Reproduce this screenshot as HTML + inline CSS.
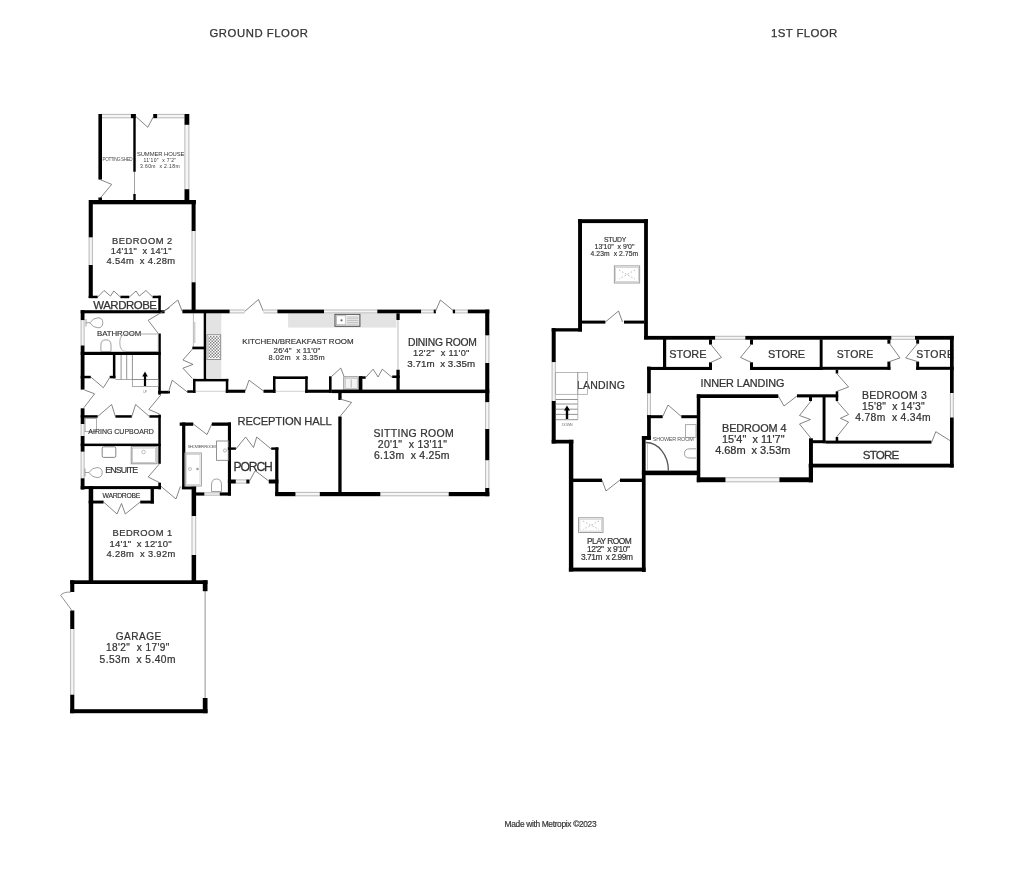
<!DOCTYPE html>
<html><head><meta charset="utf-8"><style>
html,body{margin:0;padding:0;background:#fff;}
svg{display:block;font-family:"Liberation Sans",sans-serif;will-change:transform;}
</style></head><body>
<svg width="1024" height="872" viewBox="0 0 1024 872">
<rect width="1024" height="872" fill="#fff"/>
<text x="209.5" y="36.9" font-size="11.31" textLength="98.5" lengthAdjust="spacing" fill="#333" stroke="#333" stroke-width="0.25">GROUND FLOOR</text>
<text x="771.0" y="37.0" font-size="11.45" textLength="66.3" lengthAdjust="spacing" fill="#333" stroke="#333" stroke-width="0.25">1ST FLOOR</text>
<text x="504.6" y="826.8" font-size="8.38" textLength="92.0" lengthAdjust="spacing" fill="#333" stroke="#333" stroke-width="0.18">Made with Metropix ©2023</text>
<rect x="98.4" y="114.0" width="3.6" height="65.6" fill="#000"/>
<rect x="102.0" y="114.0" width="28.9" height="4.2" fill="#f6f6f6"/>
<path d="M102.0 114.4H130.9M102.0 117.8H130.9" stroke="#aaa" stroke-width="0.8" fill="none"/>
<rect x="130.9" y="114.0" width="4.8" height="4.2" fill="#000"/>
<rect x="133.3" y="114.0" width="2.4" height="57.8" fill="#000"/>
<line x1="134.5" y1="171.8" x2="134.5" y2="194.0" stroke="#777" stroke-width="0.7"/>
<rect x="133.3" y="194.0" width="2.4" height="7.3" fill="#000"/>
<rect x="153.2" y="114.0" width="4.2" height="4.2" fill="#000"/>
<rect x="157.4" y="114.0" width="27.1" height="4.2" fill="#f6f6f6"/>
<path d="M157.4 114.4H184.5M157.4 117.8H184.5" stroke="#aaa" stroke-width="0.8" fill="none"/>
<rect x="184.5" y="114.0" width="4.8" height="10.9" fill="#000"/>
<rect x="184.5" y="124.9" width="4.8" height="64.3" fill="#f6f6f6"/>
<path d="M184.9 124.9V189.2M188.9 124.9V189.2" stroke="#aaa" stroke-width="0.8" fill="none"/>
<rect x="184.5" y="189.2" width="4.8" height="11.8" fill="#000"/>
<polyline points="135.7,116.4 147.8,127.3 153.2,117.0" fill="none" stroke="#666" stroke-width="0.8" stroke-linejoin="round"/>
<polyline points="100.2,179.6 111.7,184.4 99.6,198.9" fill="none" stroke="#666" stroke-width="0.8" stroke-linejoin="round"/>
<rect x="98.4" y="197.5" width="3.6" height="3.5" fill="#000"/>
<text x="136.9" y="156.1" font-size="5.87" textLength="47.6" lengthAdjust="spacing" fill="#333" stroke="#333" stroke-width="0.00">SUMMER HOUSE</text>
<text x="143.5" y="161.6" font-size="5.03" textLength="32.5" lengthAdjust="spacing" fill="#333" stroke="#333" stroke-width="0.00">11'10&quot;  x 7'2&quot;</text>
<text x="140.0" y="167.6" font-size="5.03" textLength="39.6" lengthAdjust="spacing" fill="#333" stroke="#333" stroke-width="0.00">3.60m  x 2.18m</text>
<text x="102.6" y="161.3" font-size="4.61" textLength="30.1" lengthAdjust="spacing" fill="#555" stroke="#555" stroke-width="0.00">POTTING SHED</text>
<rect x="89.0" y="200.0" width="106.9" height="4.3" fill="#000"/>
<rect x="88.7" y="200.0" width="4.1" height="37.6" fill="#000"/>
<rect x="88.7" y="237.6" width="4.1" height="27.4" fill="#f6f6f6"/>
<path d="M89.1 237.6V265.0M92.4 237.6V265.0" stroke="#aaa" stroke-width="0.8" fill="none"/>
<rect x="88.7" y="265.0" width="4.1" height="33.0" fill="#000"/>
<rect x="191.6" y="200.0" width="4.0" height="31.0" fill="#000"/>
<rect x="191.6" y="231.0" width="4.0" height="51.3" fill="#f6f6f6"/>
<path d="M192.0 231.0V282.3M195.2 231.0V282.3" stroke="#aaa" stroke-width="0.8" fill="none"/>
<rect x="191.6" y="282.3" width="4.0" height="30.7" fill="#000"/>
<text x="112.1" y="244.1" font-size="9.36" textLength="60.2" lengthAdjust="spacing" fill="#333" stroke="#333" stroke-width="0.21">BEDROOM 2</text>
<text x="110.8" y="253.8" font-size="9.22" textLength="60.7" lengthAdjust="spacing" fill="#333" stroke="#333" stroke-width="0.20">14'11&quot;  x 14'1&quot;</text>
<text x="106.5" y="264.0" font-size="9.36" textLength="68.5" lengthAdjust="spacing" fill="#333" stroke="#333" stroke-width="0.21">4.54m  x 4.28m</text>
<rect x="88.7" y="295.7" width="9.0" height="2.5" fill="#000"/>
<rect x="120.4" y="295.7" width="8.9" height="2.5" fill="#000"/>
<rect x="152.6" y="295.7" width="8.2" height="2.5" fill="#000"/>
<polyline points="97.7,297.0 104.0,290.5 110.5,296.0 113.8,291.0 120.4,297.0" fill="none" stroke="#666" stroke-width="0.8" stroke-linejoin="round"/>
<polyline points="129.3,297.0 136.0,291.0 139.4,296.0 146.0,290.5 152.6,297.0" fill="none" stroke="#666" stroke-width="0.8" stroke-linejoin="round"/>
<rect x="158.3" y="295.7" width="2.5" height="17.3" fill="#000"/>
<text x="93.3" y="308.9" font-size="11.45" textLength="63.7" lengthAdjust="spacing" fill="#333" stroke="#333" stroke-width="0.25">WARDROBE</text>
<rect x="80.7" y="310.2" width="83.9" height="3.1" fill="#000"/>
<rect x="80.7" y="310.2" width="3.8" height="10.1" fill="#000"/>
<rect x="80.7" y="320.3" width="3.8" height="25.2" fill="#f6f6f6"/>
<path d="M81.1 320.3V345.5M84.1 320.3V345.5" stroke="#aaa" stroke-width="0.8" fill="none"/>
<rect x="80.7" y="345.5" width="3.8" height="44.1" fill="#000"/>
<rect x="80.7" y="351.8" width="80.1" height="3.2" fill="#000"/>
<rect x="158.3" y="333.5" width="2.5" height="61.2" fill="#000"/>
<rect x="158.3" y="391.0" width="11.7" height="2.4" fill="#000"/>
<polyline points="158.3,333.5 148.2,320.3 169.6,307.6" fill="none" stroke="#666" stroke-width="0.8" stroke-linejoin="round"/>
<polyline points="164.6,310.8 177.8,300.0 182.2,311.4" fill="none" stroke="#666" stroke-width="0.8" stroke-linejoin="round"/>
<text x="97.1" y="336.0" font-size="7.82" textLength="44.1" lengthAdjust="spacing" fill="#333" stroke="#333" stroke-width="0.17">BATHROOM</text>
<path d="M158.3 334H126Q119.8 334 119.8 342.5Q119.8 351.5 126 351.5H158.3Z" fill="none" stroke="#999" stroke-width="0.8"/>
<path d="M86 319V326.5M86 322.8H90Q93 317.8 98 317.8Q102.8 317.8 102.8 322.8Q102.8 327.8 98 327.8Q93 327.8 90 322.8" fill="none" stroke="#888" stroke-width="0.8"/>
<path d="M100.9 351.5V345Q100.9 339.8 106 339.8Q111 339.8 111 345V351.5Z" fill="none" stroke="#888" stroke-width="0.8"/>
<rect x="80.7" y="375.8" width="10.1" height="2.5" fill="#000"/>
<rect x="112.9" y="355.0" width="2.5" height="23.3" fill="#000"/>
<rect x="109.7" y="375.8" width="5.7" height="2.5" fill="#000"/>
<polyline points="90.8,377.0 103.4,387.7 109.7,377.6" fill="none" stroke="#666" stroke-width="0.8" stroke-linejoin="round"/>
<polyline points="84.5,390.0 94.6,393.8 83.9,407.7" fill="none" stroke="#666" stroke-width="0.8" stroke-linejoin="round"/>
<rect x="80.7" y="408.3" width="3.8" height="15.7" fill="#000"/>
<rect x="80.7" y="424.0" width="3.8" height="12.0" fill="#f6f6f6"/>
<path d="M81.1 424.0V436.0M84.1 424.0V436.0" stroke="#aaa" stroke-width="0.8" fill="none"/>
<rect x="80.7" y="436.0" width="3.8" height="15.8" fill="#000"/>
<rect x="80.7" y="451.8" width="3.8" height="26.5" fill="#f6f6f6"/>
<path d="M81.1 451.8V478.3M84.1 451.8V478.3" stroke="#aaa" stroke-width="0.8" fill="none"/>
<rect x="80.7" y="478.3" width="3.8" height="11.3" fill="#000"/>
<line x1="121.1" y1="355.0" x2="121.1" y2="379.5" stroke="#777" stroke-width="0.8"/>
<line x1="126.7" y1="355.0" x2="126.7" y2="379.5" stroke="#777" stroke-width="0.8"/>
<line x1="132.4" y1="355.0" x2="132.4" y2="379.5" stroke="#777" stroke-width="0.8"/>
<line x1="115.4" y1="379.5" x2="158.3" y2="379.5" stroke="#888" stroke-width="0.7"/>
<rect x="132.4" y="379.5" width="25.9" height="7.0" fill="none" stroke="#888" stroke-width="0.7"/>
<path d="M145 386V375.5" stroke="#000" stroke-width="2.2"/><path d="M142.2 376.5L145 371.5L147.8 376.5Z" fill="#000"/>
<text x="143.3" y="392.6" font-size="3.35" textLength="3.7" lengthAdjust="spacing" fill="#888" stroke="#888" stroke-width="0.00">UP</text>
<polyline points="160.8,395.0 148.8,409.5 159.5,414.0" fill="none" stroke="#666" stroke-width="0.8" stroke-linejoin="round"/>
<rect x="158.3" y="414.6" width="2.5" height="49.2" fill="#000"/>
<polyline points="159.5,463.8 148.2,477.0 159.5,482.7" fill="none" stroke="#666" stroke-width="0.8" stroke-linejoin="round"/>
<rect x="158.3" y="482.7" width="2.7" height="6.6" fill="#000"/>
<rect x="80.7" y="415.2" width="17.0" height="2.5" fill="#000"/>
<rect x="115.4" y="415.2" width="16.4" height="2.5" fill="#000"/>
<rect x="149.4" y="415.2" width="11.4" height="2.5" fill="#000"/>
<polyline points="97.7,416.5 111.6,404.5 115.4,416.5" fill="none" stroke="#666" stroke-width="0.8" stroke-linejoin="round"/>
<polyline points="131.8,416.5 135.6,404.5 149.4,416.5" fill="none" stroke="#666" stroke-width="0.8" stroke-linejoin="round"/>
<rect x="85.1" y="418.4" width="11.4" height="13.2" fill="none" stroke="#999" stroke-width="0.8"/>
<text x="88.3" y="433.5" font-size="6.98" textLength="65.6" lengthAdjust="spacing" fill="#333" stroke="#333" stroke-width="0.15">AIRING CUPBOARD</text>
<rect x="80.7" y="443.6" width="80.1" height="2.5" fill="#000"/>
<rect x="102.2" y="446.8" width="13.6" height="10.6" rx="1.5" fill="none" stroke="#777" stroke-width="0.9"/>
<rect x="131.2" y="446.6" width="25.8" height="17.2" fill="none" stroke="#888" stroke-width="0.9"/>
<rect x="132.6" y="448.0" width="23.0" height="14.4" fill="none" stroke="#aaa" stroke-width="0.6"/>
<circle cx="143.5" cy="452" r="1.8" fill="none" stroke="#999" stroke-width="0.6"/>
<text x="105.3" y="472.6" font-size="8.80" textLength="32.8" lengthAdjust="spacing" fill="#333" stroke="#333" stroke-width="0.19">ENSUITE</text>
<path d="M85 468.5V476.5M85 472.5H89Q92 467.6 97 467.6Q102.2 467.6 102.2 472.5Q102.2 477.6 97 477.6Q92 477.6 89 472.5" fill="none" stroke="#888" stroke-width="0.8"/>
<rect x="80.7" y="486.1" width="80.3" height="3.0" fill="#000"/>
<rect x="150.6" y="487.0" width="3.3" height="16.5" fill="#000"/>
<rect x="88.7" y="500.6" width="14.9" height="2.9" fill="#000"/>
<rect x="140.2" y="500.6" width="13.7" height="2.9" fill="#000"/>
<polyline points="103.6,502.0 117.0,514.0 121.5,503.5 125.3,514.0 140.2,502.0" fill="none" stroke="#666" stroke-width="0.8" stroke-linejoin="round"/>
<text x="102.6" y="498.0" font-size="6.84" textLength="37.6" lengthAdjust="spacing" fill="#333" stroke="#333" stroke-width="0.15">WARDROBE</text>
<rect x="88.7" y="486.1" width="4.5" height="97.9" fill="#000"/>
<rect x="181.9" y="486.4" width="14.2" height="3.0" fill="#000"/>
<rect x="191.6" y="486.4" width="4.5" height="29.8" fill="#000"/>
<rect x="191.6" y="516.2" width="4.5" height="38.8" fill="#f6f6f6"/>
<path d="M192.0 516.2V555.0M195.7 516.2V555.0" stroke="#aaa" stroke-width="0.8" fill="none"/>
<rect x="191.6" y="555.0" width="4.5" height="29.0" fill="#000"/>
<polyline points="161.0,486.4 176.0,499.0 180.4,486.4" fill="none" stroke="#666" stroke-width="0.8" stroke-linejoin="round"/>
<text x="112.6" y="536.3" font-size="9.36" textLength="59.6" lengthAdjust="spacing" fill="#333" stroke="#333" stroke-width="0.21">BEDROOM 1</text>
<text x="109.6" y="546.8" font-size="9.50" textLength="61.9" lengthAdjust="spacing" fill="#333" stroke="#333" stroke-width="0.21">14'1&quot;  x 12'10&quot;</text>
<text x="106.6" y="557.2" font-size="9.36" textLength="68.6" lengthAdjust="spacing" fill="#333" stroke="#333" stroke-width="0.21">4.28m  x 3.92m</text>
<rect x="70.2" y="580.3" width="137.3" height="3.7" fill="#000"/>
<rect x="70.2" y="580.3" width="4.1" height="11.7" fill="#000"/>
<rect x="70.2" y="610.5" width="4.1" height="18.5" fill="#000"/>
<rect x="70.2" y="629.0" width="4.1" height="65.7" fill="#f6f6f6"/>
<path d="M70.6 629.0V694.7M73.9 629.0V694.7" stroke="#aaa" stroke-width="0.8" fill="none"/>
<rect x="70.2" y="694.7" width="4.1" height="18.5" fill="#000"/>
<path d="M71 592Q63 592 60.6 595.2L71.9 610.5" fill="none" stroke="#777" stroke-width="0.8"/>
<rect x="70.2" y="709.2" width="137.3" height="4.0" fill="#000"/>
<line x1="205.1" y1="584.0" x2="205.1" y2="709.0" stroke="#888" stroke-width="0.9"/>
<rect x="202.8" y="580.3" width="4.7" height="10.9" fill="#000"/>
<rect x="202.8" y="698.0" width="4.7" height="15.2" fill="#000"/>
<text x="115.7" y="640.2" font-size="10.06" textLength="45.5" lengthAdjust="spacing" fill="#333" stroke="#333" stroke-width="0.22">GARAGE</text>
<text x="106.0" y="651.4" font-size="10.06" textLength="63.3" lengthAdjust="spacing" fill="#333" stroke="#333" stroke-width="0.22">18'2&quot;  x 17'9&quot;</text>
<text x="99.6" y="662.7" font-size="10.20" textLength="75.8" lengthAdjust="spacing" fill="#333" stroke="#333" stroke-width="0.22">5.53m  x 5.40m</text>
<line x1="193.4" y1="313.3" x2="193.4" y2="346.6" stroke="#aaa" stroke-width="0.8"/>
<line x1="194.8" y1="322.0" x2="194.8" y2="343.0" stroke="#aaa" stroke-width="0.8"/>
<rect x="192.3" y="346.6" width="11.7" height="2.7" fill="#000"/>
<polyline points="192.3,349.3 182.9,360.0 193.0,364.4 182.9,368.2 192.3,378.3" fill="none" stroke="#666" stroke-width="0.8" stroke-linejoin="round"/>
<rect x="203.7" y="311.0" width="2.6" height="68.0" fill="#000"/>
<rect x="206.3" y="313.3" width="15.0" height="65.0" fill="#e3e3e3"/>
<defs><pattern id="chk" width="3" height="3" patternUnits="userSpaceOnUse"><rect width="1.5" height="1.5" fill="#333"/><rect x="1.5" y="1.5" width="1.5" height="1.5" fill="#333"/></pattern></defs>
<rect x="207.0" y="334.8" width="13.7" height="24.6" fill="#fff" stroke="#777" stroke-width="0.8"/>
<rect x="208" y="336" width="11.7" height="22.2" fill="url(#chk)" opacity="0.6"/>
<rect x="288.1" y="313.3" width="108.3" height="14.3" fill="#e3e3e3"/>
<rect x="335.0" y="314.3" width="24.9" height="12.0" fill="#f4f4f4" stroke="#555" stroke-width="1.1"/>
<rect x="336.6" y="315.8" width="9.2" height="9.0" fill="#fff" stroke="#999" stroke-width="0.6"/>
<circle cx="341.5" cy="320.3" r="1.1" fill="#666"/>
<line x1="347.0" y1="317.0" x2="358.6" y2="317.0" stroke="#999" stroke-width="0.6"/>
<line x1="347.0" y1="318.8" x2="358.6" y2="318.8" stroke="#999" stroke-width="0.6"/>
<line x1="347.0" y1="320.6" x2="358.6" y2="320.6" stroke="#999" stroke-width="0.6"/>
<line x1="347.0" y1="322.4" x2="358.6" y2="322.4" stroke="#999" stroke-width="0.6"/>
<line x1="347.0" y1="324.2" x2="358.6" y2="324.2" stroke="#999" stroke-width="0.6"/>
<rect x="182.4" y="309.6" width="47.4" height="3.7" fill="#000"/>
<rect x="229.8" y="309.6" width="14.8" height="3.7" fill="#f6f6f6"/>
<path d="M229.8 310.0H244.6M229.8 312.9H244.6" stroke="#aaa" stroke-width="0.8" fill="none"/>
<polyline points="244.6,311.5 258.5,299.5 263.5,311.5" fill="none" stroke="#666" stroke-width="0.8" stroke-linejoin="round"/>
<rect x="263.5" y="309.6" width="13.9" height="3.7" fill="#f6f6f6"/>
<path d="M263.5 310.0H277.4M263.5 312.9H277.4" stroke="#aaa" stroke-width="0.8" fill="none"/>
<rect x="277.4" y="309.6" width="46.7" height="3.7" fill="#000"/>
<rect x="324.1" y="309.6" width="53.2" height="3.7" fill="#f6f6f6"/>
<path d="M324.1 310.0H377.3M324.1 312.9H377.3" stroke="#aaa" stroke-width="0.8" fill="none"/>
<rect x="377.3" y="309.6" width="44.0" height="3.7" fill="#000"/>
<rect x="421.3" y="309.6" width="12.4" height="3.7" fill="#f6f6f6"/>
<path d="M421.3 310.0H433.7M421.3 312.9H433.7" stroke="#aaa" stroke-width="0.8" fill="none"/>
<rect x="433.7" y="309.6" width="2.2" height="3.7" fill="#000"/>
<polyline points="435.4,311.6 440.4,300.0 454.5,311.6" fill="none" stroke="#666" stroke-width="0.8" stroke-linejoin="round"/>
<rect x="452.8" y="309.6" width="2.5" height="3.7" fill="#000"/>
<rect x="455.3" y="309.6" width="12.5" height="3.7" fill="#f6f6f6"/>
<path d="M455.3 310.0H467.8M455.3 312.9H467.8" stroke="#aaa" stroke-width="0.8" fill="none"/>
<rect x="467.8" y="309.6" width="21.5" height="3.7" fill="#000"/>
<rect x="485.2" y="309.6" width="4.1" height="26.0" fill="#000"/>
<rect x="485.2" y="335.6" width="4.1" height="27.4" fill="#f6f6f6"/>
<path d="M485.6 335.6V363.0M488.9 335.6V363.0" stroke="#aaa" stroke-width="0.8" fill="none"/>
<rect x="485.2" y="363.0" width="4.1" height="39.4" fill="#000"/>
<rect x="485.2" y="402.4" width="4.1" height="26.6" fill="#f6f6f6"/>
<path d="M485.6 402.4V429.0M488.9 402.4V429.0" stroke="#aaa" stroke-width="0.8" fill="none"/>
<rect x="485.2" y="429.0" width="4.1" height="31.5" fill="#000"/>
<rect x="485.2" y="460.5" width="4.1" height="27.5" fill="#f6f6f6"/>
<path d="M485.6 460.5V488.0M488.9 460.5V488.0" stroke="#aaa" stroke-width="0.8" fill="none"/>
<rect x="485.2" y="488.0" width="4.1" height="8.2" fill="#000"/>
<rect x="158.3" y="390.8" width="10.2" height="2.6" fill="#000"/>
<polyline points="168.5,392.0 172.2,380.2 187.3,392.0" fill="none" stroke="#666" stroke-width="0.8" stroke-linejoin="round"/>
<rect x="187.3" y="390.3" width="8.2" height="2.5" fill="#000"/>
<rect x="193.0" y="378.9" width="35.3" height="2.5" fill="#000"/>
<rect x="193.0" y="378.9" width="2.5" height="13.9" fill="#000"/>
<rect x="225.8" y="378.9" width="2.5" height="13.9" fill="#000"/>
<line x1="195.5" y1="391.3" x2="225.8" y2="391.3" stroke="#bbb" stroke-width="0.7"/>
<rect x="225.8" y="389.7" width="19.4" height="3.1" fill="#000"/>
<polyline points="245.2,391.0 249.0,380.2 263.5,391.0" fill="none" stroke="#666" stroke-width="0.8" stroke-linejoin="round"/>
<rect x="263.5" y="389.7" width="12.0" height="3.1" fill="#000"/>
<rect x="273.0" y="376.4" width="34.7" height="2.6" fill="#000"/>
<rect x="273.0" y="376.4" width="2.5" height="16.4" fill="#000"/>
<rect x="305.2" y="376.4" width="2.5" height="16.4" fill="#000"/>
<line x1="275.5" y1="391.3" x2="305.2" y2="391.3" stroke="#bbb" stroke-width="0.7"/>
<rect x="305.2" y="389.7" width="26.5" height="3.1" fill="#000"/>
<rect x="329.0" y="376.3" width="2.6" height="16.5" fill="#000"/>
<polyline points="331.6,376.5 340.8,368.0 344.0,376.5" fill="none" stroke="#666" stroke-width="0.8" stroke-linejoin="round"/>
<rect x="343.8" y="376.8" width="14.8" height="13.2" fill="#f4f4f4" stroke="#777" stroke-width="0.8"/>
<rect x="345.2" y="378.2" width="12.0" height="10.4" fill="none" stroke="#aaa" stroke-width="0.6"/>
<line x1="351.2" y1="379.5" x2="351.2" y2="387.5" stroke="#888" stroke-width="0.6"/>
<rect x="359.0" y="376.3" width="3.4" height="16.5" fill="#000"/>
<rect x="359.0" y="376.3" width="6.7" height="2.5" fill="#000"/>
<polyline points="365.7,377.5 373.1,369.2 378.1,377.0 382.3,369.2 392.2,377.5" fill="none" stroke="#666" stroke-width="0.8" stroke-linejoin="round"/>
<rect x="392.2" y="375.5" width="7.5" height="2.5" fill="#000"/>
<rect x="396.4" y="369.7" width="3.3" height="23.1" fill="#000"/>
<rect x="396.4" y="313.3" width="3.3" height="6.7" fill="#000"/>
<line x1="398.0" y1="320.0" x2="398.0" y2="369.7" stroke="#aaa" stroke-width="0.8"/>
<rect x="331.6" y="389.6" width="157.7" height="3.5" fill="#000"/>
<text x="242.3" y="344.3" font-size="7.96" textLength="111.4" lengthAdjust="spacing" fill="#333" stroke="#333" stroke-width="0.18">KITCHEN/BREAKFAST ROOM</text>
<text x="273.6" y="352.5" font-size="7.96" textLength="46.7" lengthAdjust="spacing" fill="#333" stroke="#333" stroke-width="0.18">26'4&quot;  x 11'0&quot;</text>
<text x="268.6" y="360.3" font-size="7.40" textLength="56.1" lengthAdjust="spacing" fill="#333" stroke="#333" stroke-width="0.16">8.02m  x 3.35m</text>
<text x="408.0" y="346.4" font-size="10.34" textLength="68.9" lengthAdjust="spacing" fill="#333" stroke="#333" stroke-width="0.23">DINING ROOM</text>
<text x="413.0" y="356.4" font-size="9.22" textLength="56.4" lengthAdjust="spacing" fill="#333" stroke="#333" stroke-width="0.20">12'2&quot;  x 11'0&quot;</text>
<text x="407.2" y="366.7" font-size="9.78" textLength="68.0" lengthAdjust="spacing" fill="#333" stroke="#333" stroke-width="0.22">3.71m  x 3.35m</text>
<rect x="338.3" y="390.8" width="3.3" height="9.2" fill="#000"/>
<polyline points="340.0,399.0 351.6,402.4 340.0,416.5" fill="none" stroke="#666" stroke-width="0.8" stroke-linejoin="round"/>
<rect x="338.3" y="416.5" width="3.3" height="77.2" fill="#000"/>
<rect x="275.2" y="492.0" width="20.5" height="4.2" fill="#000"/>
<rect x="295.7" y="492.0" width="24.1" height="4.2" fill="#f6f6f6"/>
<path d="M295.7 492.4H319.8M295.7 495.8H319.8" stroke="#aaa" stroke-width="0.8" fill="none"/>
<rect x="319.8" y="492.0" width="60.8" height="4.2" fill="#000"/>
<rect x="380.6" y="492.0" width="68.1" height="4.2" fill="#f6f6f6"/>
<path d="M380.6 492.4H448.7M380.6 495.8H448.7" stroke="#aaa" stroke-width="0.8" fill="none"/>
<rect x="448.7" y="492.0" width="40.6" height="4.2" fill="#000"/>
<text x="373.5" y="436.5" font-size="10.47" textLength="80.2" lengthAdjust="spacing" fill="#333" stroke="#333" stroke-width="0.23">SITTING ROOM</text>
<text x="377.8" y="448.1" font-size="10.47" textLength="69.2" lengthAdjust="spacing" fill="#333" stroke="#333" stroke-width="0.23">20'1&quot;  x 13'11&quot;</text>
<text x="374.0" y="458.9" font-size="10.47" textLength="75.5" lengthAdjust="spacing" fill="#333" stroke="#333" stroke-width="0.23">6.13m  x 4.25m</text>
<text x="237.5" y="425.2" font-size="11.17" textLength="94.3" lengthAdjust="spacing" fill="#333" stroke="#333" stroke-width="0.25">RECEPTION HALL</text>
<rect x="179.7" y="422.5" width="13.6" height="3.3" fill="#000"/>
<polyline points="193.3,424.0 207.0,434.6 211.8,424.0" fill="none" stroke="#666" stroke-width="0.8" stroke-linejoin="round"/>
<rect x="211.8" y="422.5" width="19.2" height="3.3" fill="#000"/>
<rect x="182.1" y="422.5" width="3.2" height="65.5" fill="#000"/>
<rect x="227.9" y="422.5" width="3.1" height="73.1" fill="#000"/>
<rect x="193.3" y="492.4" width="11.3" height="3.2" fill="#000"/>
<rect x="204.6" y="492.4" width="15.2" height="3.2" fill="#f6f6f6"/>
<path d="M204.6 492.8H219.8M204.6 495.2H219.8" stroke="#aaa" stroke-width="0.8" fill="none"/>
<rect x="219.8" y="492.4" width="11.2" height="3.2" fill="#000"/>
<rect x="216.6" y="441.0" width="12.1" height="19.3" fill="none" stroke="#777" stroke-width="0.8"/>
<circle cx="225" cy="450.5" r="1.6" fill="none" stroke="#888" stroke-width="0.6"/>
<rect x="184.8" y="453.0" width="16.6" height="33.0" fill="none" stroke="#999" stroke-width="0.9"/>
<rect x="186.2" y="454.4" width="13.8" height="30.2" fill="none" stroke="#bbb" stroke-width="0.6"/>
<circle cx="190" cy="469" r="1.5" fill="none" stroke="#999" stroke-width="0.6"/><circle cx="197.5" cy="469" r="1.2" fill="#999"/>
<path d="M211.5 491.5H221.5V485Q221.5 479 216.5 479Q211.5 479 211.5 485Z" fill="none" stroke="#888" stroke-width="0.8"/>
<text x="187.7" y="448.2" font-size="4.19" textLength="28.1" lengthAdjust="spacing" fill="#555" stroke="#555" stroke-width="0.00">SHOWER ROOM</text>
<rect x="227.9" y="447.4" width="8.0" height="2.4" fill="#000"/>
<polyline points="235.9,449.0 245.6,437.0 253.5,447.5 256.7,437.0 271.2,449.0" fill="none" stroke="#666" stroke-width="0.8" stroke-linejoin="round"/>
<rect x="271.2" y="447.4" width="7.2" height="2.4" fill="#000"/>
<rect x="275.2" y="447.4" width="3.2" height="48.2" fill="#000"/>
<rect x="227.9" y="479.5" width="8.0" height="4.0" fill="#000"/>
<rect x="235.9" y="479.5" width="10.4" height="4.0" fill="#f6f6f6"/>
<path d="M235.9 479.9H246.3M235.9 483.1H246.3" stroke="#aaa" stroke-width="0.8" fill="none"/>
<rect x="246.3" y="479.5" width="3.2" height="4.0" fill="#000"/>
<polyline points="249.5,481.0 255.2,470.7 268.8,481.0" fill="none" stroke="#666" stroke-width="0.8" stroke-linejoin="round"/>
<rect x="268.8" y="479.5" width="9.6" height="4.0" fill="#000"/>
<text x="233.5" y="470.7" font-size="12.15" textLength="39.3" lengthAdjust="spacing" fill="#333" stroke="#333" stroke-width="0.27">PORCH</text>
<rect x="578.1" y="219.2" width="69.8" height="3.9" fill="#000"/>
<rect x="578.1" y="219.2" width="3.9" height="112.3" fill="#000"/>
<rect x="644.1" y="219.2" width="3.8" height="120.0" fill="#000"/>
<rect x="582.0" y="320.6" width="23.4" height="3.0" fill="#000"/>
<rect x="624.0" y="320.6" width="20.1" height="3.0" fill="#000"/>
<polyline points="605.4,322.0 618.5,311.0 622.5,322.0" fill="none" stroke="#666" stroke-width="0.8" stroke-linejoin="round"/>
<text x="603.9" y="242.0" font-size="6.84" textLength="22.3" lengthAdjust="spacing" fill="#333" stroke="#333" stroke-width="0.15">STUDY</text>
<text x="594.6" y="249.0" font-size="6.98" textLength="39.8" lengthAdjust="spacing" fill="#333" stroke="#333" stroke-width="0.15">13'10&quot;  x 9'0&quot;</text>
<text x="590.5" y="255.8" font-size="6.70" textLength="47.7" lengthAdjust="spacing" fill="#333" stroke="#333" stroke-width="0.15">4.23m  x 2.75m</text>
<rect x="614.3" y="265.9" width="25.4" height="17.1" fill="none" stroke="#888" stroke-width="0.8"/>
<rect x="615.7" y="267.3" width="22.6" height="14.3" fill="none" stroke="#bbb" stroke-width="0.6"/>
<path d="M619 270L635 279M635 270L619 279" stroke="#999" stroke-width="0.7" stroke-dasharray="1.5,2"/>
<rect x="551.7" y="328.2" width="30.3" height="3.3" fill="#000"/>
<rect x="551.7" y="328.2" width="4.0" height="34.1" fill="#000"/>
<rect x="551.7" y="362.3" width="4.0" height="38.7" fill="#f6f6f6"/>
<path d="M552.1 362.3V401.0M555.3 362.3V401.0" stroke="#aaa" stroke-width="0.8" fill="none"/>
<rect x="551.7" y="401.0" width="4.0" height="42.5" fill="#000"/>
<rect x="551.7" y="439.8" width="21.6" height="3.7" fill="#000"/>
<rect x="568.9" y="439.8" width="4.4" height="131.7" fill="#000"/>
<text x="577.0" y="389.1" font-size="10.47" textLength="47.8" lengthAdjust="spacing" fill="#333" stroke="#333" stroke-width="0.23">LANDING</text>
<rect x="555.7" y="372.4" width="22.1" height="21.9" fill="none" stroke="#999" stroke-width="0.7"/>
<rect x="577.8" y="372.4" width="9.7" height="21.9" fill="none" stroke="#999" stroke-width="0.7"/>
<line x1="555.7" y1="399.5" x2="577.8" y2="399.5" stroke="#777" stroke-width="0.8"/>
<line x1="555.7" y1="404.0" x2="577.8" y2="404.0" stroke="#777" stroke-width="0.8"/>
<line x1="555.7" y1="409.2" x2="577.8" y2="409.2" stroke="#777" stroke-width="0.8"/>
<line x1="555.7" y1="414.4" x2="577.8" y2="414.4" stroke="#777" stroke-width="0.8"/>
<line x1="555.7" y1="419.7" x2="577.8" y2="419.7" stroke="#777" stroke-width="0.8"/>
<line x1="577.8" y1="394.3" x2="577.8" y2="419.7" stroke="#999" stroke-width="0.7"/>
<path d="M567 419V409.5" stroke="#000" stroke-width="2.4"/><path d="M564 410.5L567 405.5L570 410.5Z" fill="#000"/>
<text x="562.1" y="426.2" font-size="3.91" textLength="10.5" lengthAdjust="spacing" fill="#777" stroke="#777" stroke-width="0.00">DOWN</text>
<rect x="644.1" y="335.9" width="71.3" height="3.8" fill="#000"/>
<rect x="715.4" y="335.9" width="29.9" height="3.8" fill="#f6f6f6"/>
<path d="M715.4 336.3H745.3M715.4 339.3H745.3" stroke="#aaa" stroke-width="0.8" fill="none"/>
<rect x="745.3" y="335.9" width="146.3" height="3.8" fill="#000"/>
<rect x="891.6" y="335.9" width="23.4" height="3.8" fill="#f6f6f6"/>
<path d="M891.6 336.3H915.0M891.6 339.3H915.0" stroke="#aaa" stroke-width="0.8" fill="none"/>
<rect x="915.0" y="335.9" width="38.7" height="3.8" fill="#000"/>
<rect x="663.0" y="339.0" width="3.2" height="30.5" fill="#000"/>
<rect x="647.1" y="366.9" width="64.9" height="3.1" fill="#000"/>
<rect x="709.0" y="339.4" width="3.0" height="5.2" fill="#000"/>
<rect x="709.0" y="362.3" width="3.0" height="7.3" fill="#000"/>
<polyline points="711.0,344.6 721.5,357.5 711.0,362.3" fill="none" stroke="#666" stroke-width="0.8" stroke-linejoin="round"/>
<text x="669.3" y="358.2" font-size="10.89" textLength="37.1" lengthAdjust="spacing" fill="#333" stroke="#333" stroke-width="0.24">STORE</text>
<rect x="750.0" y="339.4" width="3.0" height="5.2" fill="#000"/>
<rect x="750.0" y="362.3" width="3.0" height="7.3" fill="#000"/>
<polyline points="751.0,344.6 740.5,357.5 751.0,362.3" fill="none" stroke="#666" stroke-width="0.8" stroke-linejoin="round"/>
<rect x="750.0" y="366.9" width="73.0" height="3.1" fill="#000"/>
<rect x="819.7" y="339.4" width="2.9" height="30.2" fill="#000"/>
<text x="768.0" y="358.2" font-size="10.89" textLength="37.0" lengthAdjust="spacing" fill="#333" stroke="#333" stroke-width="0.24">STORE</text>
<rect x="822.6" y="366.8" width="67.8" height="3.0" fill="#000"/>
<rect x="887.4" y="339.4" width="3.0" height="4.3" fill="#000"/>
<rect x="887.4" y="361.6" width="3.0" height="8.2" fill="#000"/>
<polyline points="889.6,343.7 900.0,357.9 889.6,361.6" fill="none" stroke="#666" stroke-width="0.8" stroke-linejoin="round"/>
<text x="836.7" y="357.9" font-size="10.47" textLength="36.5" lengthAdjust="spacing" fill="#333" stroke="#333" stroke-width="0.23">STORE</text>
<rect x="916.2" y="339.4" width="2.9" height="4.3" fill="#000"/>
<rect x="916.2" y="361.6" width="2.9" height="8.2" fill="#000"/>
<polyline points="917.5,343.7 905.7,357.9 917.5,361.6" fill="none" stroke="#666" stroke-width="0.8" stroke-linejoin="round"/>
<rect x="916.2" y="366.8" width="37.5" height="3.0" fill="#000"/>
<text x="916.2" y="357.9" font-size="10.47" textLength="37.8" lengthAdjust="spacing" fill="#333" stroke="#333" stroke-width="0.23">STORE</text>
<rect x="950.0" y="335.9" width="3.7" height="57.1" fill="#000"/>
<rect x="950.0" y="393.0" width="3.7" height="24.5" fill="#f6f6f6"/>
<path d="M950.4 393.0V417.5M953.3 393.0V417.5" stroke="#aaa" stroke-width="0.8" fill="none"/>
<rect x="950.0" y="417.5" width="3.7" height="50.0" fill="#000"/>
<rect x="808.8" y="463.7" width="144.9" height="3.8" fill="#000"/>
<text x="862.8" y="459.3" font-size="11.59" textLength="36.5" lengthAdjust="spacing" fill="#333" stroke="#333" stroke-width="0.26">STORE</text>
<rect x="647.1" y="366.6" width="3.7" height="27.0" fill="#000"/>
<rect x="647.1" y="393.6" width="3.7" height="22.4" fill="#f6f6f6"/>
<path d="M647.5 393.6V416.0M650.4 393.6V416.0" stroke="#aaa" stroke-width="0.8" fill="none"/>
<text x="700.5" y="387.1" font-size="10.89" textLength="84.0" lengthAdjust="spacing" fill="#333" stroke="#333" stroke-width="0.24">INNER LANDING</text>
<rect x="647.1" y="415.2" width="15.6" height="3.0" fill="#000"/>
<rect x="681.3" y="415.2" width="18.7" height="3.0" fill="#000"/>
<polyline points="662.7,416.5 668.0,405.0 681.3,416.5" fill="none" stroke="#666" stroke-width="0.8" stroke-linejoin="round"/>
<rect x="647.1" y="415.2" width="3.7" height="24.6" fill="#000"/>
<rect x="641.9" y="436.0" width="8.9" height="3.8" fill="#000"/>
<rect x="641.9" y="436.0" width="3.7" height="136.0" fill="#000"/>
<rect x="641.9" y="470.6" width="58.1" height="4.6" fill="#000"/>
<text x="652.7" y="441.2" font-size="5.45" textLength="41.0" lengthAdjust="spacing" fill="#555" stroke="#555" stroke-width="0.00">SHOWER ROOM</text>
<path d="M646 442.5A22.5 28 0 0 1 668.4 470.6" fill="none" stroke="#555" stroke-width="1.3"/>
<line x1="647.5" y1="443.0" x2="647.5" y2="470.0" stroke="#aaa" stroke-width="0.7"/>
<rect x="685.6" y="424.7" width="10.4" height="12.6" fill="none" stroke="#888" stroke-width="0.7"/>
<path d="M696 448.8H690Q684.5 448.8 684.5 453.5Q684.5 458 690 458H696" fill="none" stroke="#888" stroke-width="0.8"/>
<rect x="572.0" y="478.6" width="30.0" height="3.4" fill="#000"/>
<rect x="620.0" y="478.6" width="25.0" height="3.4" fill="#000"/>
<polyline points="602.0,480.0 606.0,491.0 620.0,480.0" fill="none" stroke="#666" stroke-width="0.8" stroke-linejoin="round"/>
<rect x="568.9" y="567.6" width="76.7" height="3.9" fill="#000"/>
<text x="587.0" y="544.2" font-size="8.38" textLength="44.7" lengthAdjust="spacing" fill="#333" stroke="#333" stroke-width="0.18">PLAY ROOM</text>
<text x="587.0" y="552.2" font-size="8.38" textLength="43.0" lengthAdjust="spacing" fill="#333" stroke="#333" stroke-width="0.18">12'2&quot;  x 9'10&quot;</text>
<text x="581.0" y="560.0" font-size="8.38" textLength="52.0" lengthAdjust="spacing" fill="#333" stroke="#333" stroke-width="0.18">3.71m  x 2.99m</text>
<rect x="578.5" y="517.8" width="24.5" height="14.7" fill="none" stroke="#888" stroke-width="0.8"/>
<rect x="579.9" y="519.2" width="21.7" height="11.9" fill="none" stroke="#bbb" stroke-width="0.6"/>
<path d="M583 521L599 529.5M599 521L583 529.5" stroke="#999" stroke-width="0.7" stroke-dasharray="1.5,2"/>
<rect x="696.8" y="394.3" width="81.5" height="3.7" fill="#000"/>
<rect x="797.0" y="394.3" width="41.2" height="3.1" fill="#000"/>
<polyline points="778.3,396.0 784.0,406.0 797.0,396.0" fill="none" stroke="#666" stroke-width="0.8" stroke-linejoin="round"/>
<rect x="696.8" y="394.3" width="3.5" height="87.9" fill="#000"/>
<rect x="696.8" y="477.3" width="28.9" height="4.9" fill="#000"/>
<rect x="725.7" y="477.3" width="53.7" height="4.9" fill="#f6f6f6"/>
<path d="M725.7 477.7H779.4M725.7 481.8H779.4" stroke="#aaa" stroke-width="0.8" fill="none"/>
<rect x="779.4" y="477.3" width="33.5" height="4.9" fill="#000"/>
<rect x="809.0" y="438.3" width="3.9" height="43.9" fill="#000"/>
<rect x="809.0" y="397.0" width="3.0" height="4.0" fill="#000"/>
<polyline points="811.0,401.0 799.5,415.5 810.5,419.5 799.5,424.0 811.0,438.3" fill="none" stroke="#666" stroke-width="0.8" stroke-linejoin="round"/>
<rect x="822.6" y="397.0" width="2.9" height="46.2" fill="#000"/>
<rect x="809.0" y="440.2" width="16.5" height="3.0" fill="#000"/>
<text x="722.0" y="432.0" font-size="10.89" textLength="64.5" lengthAdjust="spacing" fill="#333" stroke="#333" stroke-width="0.24">BEDROOM 4</text>
<text x="722.0" y="443.2" font-size="10.89" textLength="62.5" lengthAdjust="spacing" fill="#333" stroke="#333" stroke-width="0.24">15'4&quot;  x 11'7&quot;</text>
<text x="715.2" y="453.9" font-size="11.03" textLength="75.2" lengthAdjust="spacing" fill="#333" stroke="#333" stroke-width="0.24">4.68m  x 3.53m</text>
<rect x="835.7" y="369.8" width="2.5" height="3.7" fill="#000"/>
<polyline points="836.7,373.5 848.6,387.0 836.7,391.4" fill="none" stroke="#666" stroke-width="0.8" stroke-linejoin="round"/>
<rect x="835.7" y="391.4" width="2.5" height="9.6" fill="#000"/>
<polyline points="836.7,401.0 848.6,414.5 840.4,418.3 848.6,422.0 836.7,436.9" fill="none" stroke="#666" stroke-width="0.8" stroke-linejoin="round"/>
<rect x="835.7" y="437.0" width="2.5" height="6.0" fill="#000"/>
<rect x="825.5" y="440.6" width="105.9" height="3.0" fill="#000"/>
<polyline points="931.4,442.9 935.8,431.7 950.0,440.6" fill="none" stroke="#666" stroke-width="0.8" stroke-linejoin="round"/>
<rect x="808.8" y="463.7" width="4.1" height="18.5" fill="#000"/>
<text x="862.0" y="398.9" font-size="10.47" textLength="64.9" lengthAdjust="spacing" fill="#333" stroke="#333" stroke-width="0.23">BEDROOM 3</text>
<text x="862.0" y="410.0" font-size="10.34" textLength="62.7" lengthAdjust="spacing" fill="#333" stroke="#333" stroke-width="0.23">15'8&quot;  x 14'3&quot;</text>
<text x="855.3" y="421.2" font-size="10.34" textLength="75.3" lengthAdjust="spacing" fill="#333" stroke="#333" stroke-width="0.23">4.78m  x 4.34m</text>
</svg></body></html>
